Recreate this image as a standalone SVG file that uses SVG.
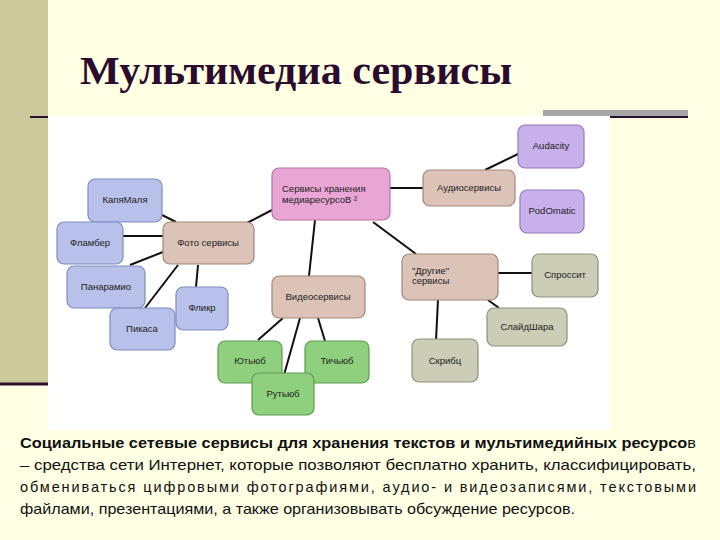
<svg xmlns="http://www.w3.org/2000/svg" width="720" height="540" viewBox="0 0 720 540">
<defs>
<style>
.n{stroke-width:1.2}
.b{fill:#b7c1ea;stroke:#7f8cc0}
.t{fill:#dcc3b7;stroke:#a08878}
.p{fill:#e9a6d4;stroke:#b773a3}
.v{fill:#c8b0ea;stroke:#9578c0}
.g{fill:#8fd07e;stroke:#5e9c4f}
.o{fill:#cbcdb6;stroke:#8f917a}
.l{font-family:"Liberation Sans",Arial,sans-serif;font-size:9.5px;fill:#222}
.c line{stroke:#111;stroke-width:2}
.x{font-family:"Liberation Sans",Arial,sans-serif;font-size:14.5px;fill:#111}
</style>
</defs>
<rect width="720" height="540" fill="#ffffe4"/>
<rect x="0" y="0" width="48" height="385" fill="#cdc99b"/>
<rect x="543" y="110" width="145" height="6" fill="#a6a6a6"/>
<line x1="30" y1="117" x2="48" y2="117" stroke="#2a1030" stroke-width="2"/>
<line x1="610" y1="117" x2="688" y2="117" stroke="#2a1030" stroke-width="2"/>
<line x1="0" y1="384" x2="48" y2="384" stroke="#2a1030" stroke-width="3"/>
<text x="80" y="84" font-family="'Liberation Serif','Times New Roman',serif" font-weight="bold" font-size="40" fill="#2b0c2e" textLength="432" lengthAdjust="spacingAndGlyphs">Мультимедиа сервисы</text>
<rect x="48" y="116" width="562" height="314" fill="#fff"/>
<g class="c">
<line x1="162" y1="215" x2="176" y2="222"/>
<line x1="123" y1="236" x2="163" y2="236"/>
<line x1="130" y1="265" x2="163" y2="252"/>
<line x1="145" y1="308" x2="178" y2="265"/>
<line x1="196" y1="287" x2="198" y2="265"/>
<line x1="245" y1="224" x2="272" y2="210"/>
<line x1="315" y1="220" x2="309" y2="276"/>
<line x1="258" y1="340" x2="283" y2="318"/>
<line x1="300" y1="318" x2="284" y2="375"/>
<line x1="318" y1="318" x2="325" y2="341"/>
<line x1="390" y1="188" x2="423" y2="188"/>
<line x1="485" y1="170" x2="520" y2="153"/>
<line x1="373" y1="222" x2="416" y2="254"/>
<line x1="498" y1="273" x2="532" y2="273"/>
<line x1="488" y1="300" x2="499" y2="308"/>
<line x1="438" y1="300" x2="436" y2="340"/>
</g>
<g id="center"><rect class="n p" x="272" y="168" width="118" height="52" rx="7"/><text class="l" x="282" y="192">Сервисы хранения</text><text class="l" x="282" y="203">медиаресурсоВ ²</text></g>
<g id="audio"><rect class="n t" x="423" y="170" width="92" height="36" rx="7"/><text class="l" x="469" y="191" text-anchor="middle">Аудиосервисы</text></g>
<g id="audacity"><rect class="n v" x="518" y="125" width="66" height="43" rx="7"/><text class="l" x="551" y="149" text-anchor="middle">Audacity</text></g>
<g id="podomatic"><rect class="n v" x="520" y="190" width="64" height="43" rx="7"/><text class="l" x="552" y="214" text-anchor="middle">PodOmatic</text></g>
<g id="other"><rect class="n t" x="402" y="254" width="96" height="46" rx="7"/><text class="l" x="412" y="274">"Другие"</text><text class="l" x="412" y="284">сервисы</text></g>
<g id="spros"><rect class="n o" x="532" y="254" width="66" height="43" rx="7"/><text class="l" x="565" y="278" text-anchor="middle">Спроссит</text></g>
<g id="slide"><rect class="n o" x="487" y="308" width="80" height="38" rx="7"/><text class="l" x="527" y="330" text-anchor="middle">СлайдШара</text></g>
<g id="scribd"><rect class="n o" x="412" y="339" width="66" height="43" rx="7"/><text class="l" x="445" y="364" text-anchor="middle">Скрибц</text></g>
<g id="video"><rect class="n t" x="272" y="276" width="93" height="42" rx="7"/><text class="l" x="318" y="300" text-anchor="middle">Видеосервисы</text></g>
<g id="youtube"><rect class="n g" x="218" y="341" width="64" height="42" rx="7"/><text class="l" x="250" y="364" text-anchor="middle">Ютьюб</text></g>
<g id="tichube"><rect class="n g" x="305" y="341" width="64" height="42" rx="7"/><text class="l" x="337" y="364" text-anchor="middle">Тичьюб</text></g>
<g id="rutube"><rect class="n g" x="252" y="373" width="62" height="42" rx="7"/><text class="l" x="283" y="397" text-anchor="middle">Рутьюб</text></g>
<g id="photo"><rect class="n t" x="163" y="222" width="91" height="42" rx="7"/><text class="l" x="208" y="246" text-anchor="middle">Фото сервисы</text></g>
<g id="kapya"><rect class="n b" x="88" y="179" width="74" height="43" rx="7"/><text class="l" x="125" y="203" text-anchor="middle">КапяМаля</text></g>
<g id="flamber"><rect class="n b" x="57" y="222" width="66" height="42" rx="7"/><text class="l" x="90" y="246" text-anchor="middle">Фламбер</text></g>
<g id="panoramio"><rect class="n b" x="67" y="266" width="78" height="42" rx="7"/><text class="l" x="106" y="290" text-anchor="middle">Панарамио</text></g>
<g id="picasa"><rect class="n b" x="110" y="308" width="65" height="42" rx="7"/><text class="l" x="142" y="332" text-anchor="middle">Пикаса</text></g>
<g id="flickr"><rect class="n b" x="176" y="287" width="52" height="43" rx="7"/><text class="l" x="202" y="311" text-anchor="middle">Фликр</text></g>
<text class="x" x="20" y="448" font-weight="bold" textLength="676" lengthAdjust="spacingAndGlyphs">Социальные сетевые сервисы для хранения текстов и мультимедийных ресурсо<tspan font-weight="normal">в</tspan></text>
<text class="x" x="20" y="470" textLength="676" lengthAdjust="spacingAndGlyphs">– средства сети Интернет, которые позволяют бесплатно хранить, классифицировать,</text>
<text class="x" x="20" y="492" textLength="676" lengthAdjust="spacing">обмениваться цифровыми фотографиями, аудио- и видеозаписями, текстовыми</text>
<text class="x" x="20" y="514" textLength="555" lengthAdjust="spacingAndGlyphs">файлами, презентациями, а также организовывать обсуждение ресурсов.</text>
</svg>
